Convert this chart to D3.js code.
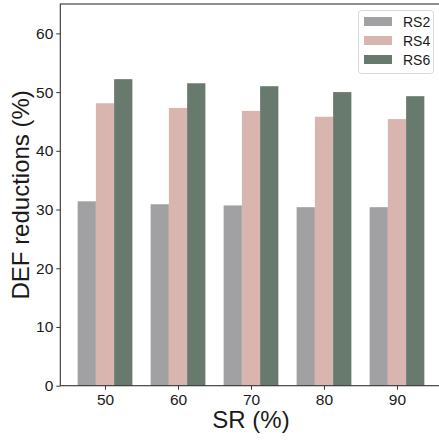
<!DOCTYPE html>
<html>
<head>
<meta charset="utf-8">
<script src="https://cdn.jsdelivr.net/npm/d3@7"></script>
<style>
  html, body { margin: 0; padding: 0; background: #fff; }
  svg { display: block; font-family: "Liberation Sans", Arial, sans-serif; }
</style>
</head>
<body>
<svg width="439" height="440"></svg>
<script>
'use strict';

var categories = ['50', '60', '70', '80', '90'];
var seriesNames = ['RS2', 'RS4', 'RS6'];
var rs2 = [31.4, 30.9, 30.7, 30.4, 30.4];
var rs4 = [48.1, 47.3, 46.8, 45.8, 45.4];
var rs6 = [52.2, 51.5, 51.0, 50.0, 49.3];
var yTicks = [0, 10, 20, 30, 40, 50, 60];
var colors = ['#a1a1a3', '#d8b5ae', '#68796e'];

var barChart = (function() {

    var series = [rs2, rs4, rs6];
    var barWidth = 0.25;
    var canvas = d3.select('svg');

    var plotLeft = 60.3, plotRight = 441.7, plotTop = 4, plotBottom = 385.7;

    var x = d3.scaleLinear()
        .domain([-0.6125, 4.6125])
        .range([plotLeft, plotRight]);

    var y = d3.scaleLinear()
        .domain([0, 65])
        .range([plotBottom, plotTop]);

    // bars
    series.forEach(function(values, j) {
        canvas.append('g')
            .selectAll('rect')
            .data(values)
            .enter()
            .append('rect')
            .attr('fill', colors[j])
            .attr('x', function(d, i) { return x(i + (j - 1) * barWidth - barWidth / 2); })
            .attr('width', x(barWidth) - x(0))
            .attr('y', function(d) { return y(d); })
            .attr('height', function(d) { return y(0) - y(d); });
    });

    // frame
    canvas.append('rect')
        .attr('x', plotLeft)
        .attr('y', plotTop)
        .attr('width', plotRight - plotLeft)
        .attr('height', plotBottom - plotTop)
        .attr('fill', 'none')
        .attr('stroke', '#333')
        .attr('stroke-width', 1.1);

    var axisX = d3.axisBottom(x)
        .tickValues(d3.range(categories.length))
        .tickFormat(function(d) { return categories[d]; })
        .tickSizeOuter(0)
        .tickSize(4)
        .tickPadding(4);

    var axisY = d3.axisLeft(y)
        .tickValues(yTicks)
        .tickSizeOuter(0)
        .tickSize(4)
        .tickPadding(3);

    var gx = canvas.append('g')
        .attr('transform', 'translate(0,' + plotBottom + ')')
        .call(axisX);

    var gy = canvas.append('g')
        .attr('transform', 'translate(' + plotLeft + ',0)')
        .call(axisY);

    [gx, gy].forEach(function(g) {
        g.select('.domain').remove();
        g.selectAll('line').attr('stroke', '#333');
        g.selectAll('text')
            .attr('fill', '#1a1a1a')
            .style('font-size', '15.5px')
            .style('font-family', '"Liberation Sans", Arial, sans-serif');
    });

    // axis titles
    canvas.append('text')
        .attr('x', (plotLeft + plotRight) / 2)
        .attr('y', 428)
        .attr('text-anchor', 'middle')
        .attr('fill', '#1a1a1a')
        .style('font-size', '24px')
        .text('SR (%)');

    canvas.append('text')
        .attr('transform', 'translate(29,' + ((plotTop + plotBottom) / 2) + ') rotate(-90)')
        .attr('text-anchor', 'middle')
        .attr('fill', '#1a1a1a')
        .style('font-size', '24px')
        .text('DEF reductions (%)');

    // legend
    var legend = canvas.append('g');
    legend.append('rect')
        .attr('x', 358.5)
        .attr('y', 10.5)
        .attr('width', 75)
        .attr('height', 63)
        .attr('rx', 3)
        .attr('fill', '#fff')
        .attr('fill-opacity', 0.8)
        .attr('stroke', '#d8d8d8');

    var items = legend.selectAll('g.item')
        .data(seriesNames)
        .enter()
        .append('g')
        .attr('class', 'item')
        .attr('transform', function(d, i) { return 'translate(0,' + (21.5 + i * 19) + ')'; });

    items.append('rect')
        .attr('x', 364)
        .attr('y', -4.5)
        .attr('width', 28)
        .attr('height', 9)
        .attr('fill', function(d, i) { return colors[i]; });

    items.append('text')
        .attr('x', 403)
        .attr('y', 5)
        .attr('fill', '#1a1a1a')
        .style('font-size', '14px')
        .text(function(d) { return d; });

    return canvas;
})();
</script>
</body>
</html>
